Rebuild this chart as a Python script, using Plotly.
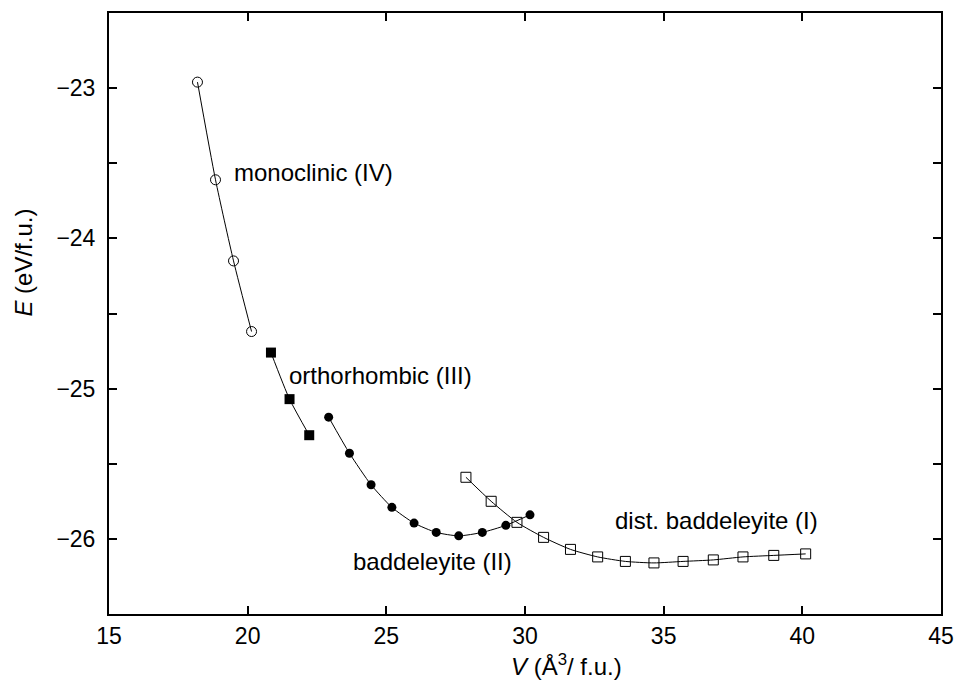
import plotly.graph_objects as go

# Data (V in Å^3/f.u., E in eV/f.u.)
mono_v = [18.19, 18.84, 19.49, 20.14]
mono_e = [-22.96, -23.61, -24.15, -24.62]

ortho_v = [20.84, 21.51, 22.22]
ortho_e = [-24.76, -25.07, -25.31]

badd_v = [22.92, 23.67, 24.45, 25.20, 26.00, 26.80, 27.61, 28.46, 29.31, 30.18]
badd_e = [-25.19, -25.43, -25.64, -25.79, -25.895, -25.957, -25.98, -25.957, -25.91, -25.84]

dist_v = [27.87, 28.78, 29.71, 30.67, 31.64, 32.62, 33.62, 34.65, 35.70, 36.79, 37.86, 38.97, 40.12]
dist_e = [-25.59, -25.75, -25.89, -25.99, -26.07, -26.12, -26.15, -26.16, -26.15, -26.14, -26.12, -26.11, -26.10]

labels = ["monoclinic (IV)", "orthorhombic (III)", "baddeleyite (II)", "dist. baddeleyite (I)"]
label_x = [19.42, 21.42, 23.72, 33.16]
label_y = [-23.56, -24.915, -26.15, -25.88]

FONT = "Liberation Sans, Arial, Helvetica, sans-serif"

fig = go.Figure()

line = dict(color="black", width=1, shape="spline", smoothing=0.6)

fig.add_trace(go.Scatter(x=mono_v, y=mono_e, mode="lines+markers", line=line,
                         marker=dict(symbol="circle-open", size=10, color="black", line=dict(width=1))))
fig.add_trace(go.Scatter(x=ortho_v, y=ortho_e, mode="lines+markers", line=line,
                         marker=dict(symbol="square", size=10, color="black")))
fig.add_trace(go.Scatter(x=badd_v, y=badd_e, mode="lines+markers", line=line,
                         marker=dict(symbol="circle", size=9, color="black")))
fig.add_trace(go.Scatter(x=dist_v, y=dist_e, mode="lines+markers", line=line,
                         marker=dict(symbol="square-open", size=10, color="black", line=dict(width=1))))

for t, x, y in zip(labels, label_x, label_y):
    fig.add_annotation(x=x, y=y, text=t, showarrow=False, xanchor="left", yanchor="middle",
                       font=dict(family=FONT, size=24, color="black"))

fig.add_annotation(xref="paper", yref="paper", x=(569 - 109) / 836, y=-(665 - 614) / 603,
                   text="<i>V</i> (Å<sup>3</sup>/ f.u.)", showarrow=False,
                   xanchor="center", yanchor="middle",
                   font=dict(family=FONT, size=24, color="black"))
fig.add_annotation(xref="paper", yref="paper", x=-(109 - 23) / 836, y=(614 - 261) / 603,
                   text="<i>E</i> (eV/f.u.)", showarrow=False, textangle=-90,
                   xanchor="center", yanchor="middle",
                   font=dict(family=FONT, size=24, color="black"))

axis_common = dict(showgrid=False, zeroline=False, showline=True, linecolor="black", linewidth=2,
                   mirror="ticks", ticks="inside", ticklen=8, tickwidth=1.5, tickcolor="black",
                   tickfont=dict(family=FONT, size=23, color="black"))

fig.update_xaxes(range=[15, 45], tick0=15, dtick=5, **axis_common)
fig.update_yaxes(range=[-26.5, -22.5], tick0=-26, dtick=1, ticklabelstandoff=7,
                 minor=dict(dtick=0.5, tick0=-26, ticks="inside", ticklen=8, tickwidth=1.5, tickcolor="black"),
                 **axis_common)

fig.update_layout(width=965, height=682, showlegend=False,
                  paper_bgcolor="white", plot_bgcolor="white",
                  margin=dict(l=109, r=20, t=11, b=68),
                  font=dict(family=FONT, color="black"))

fig.write_html("out.html")
